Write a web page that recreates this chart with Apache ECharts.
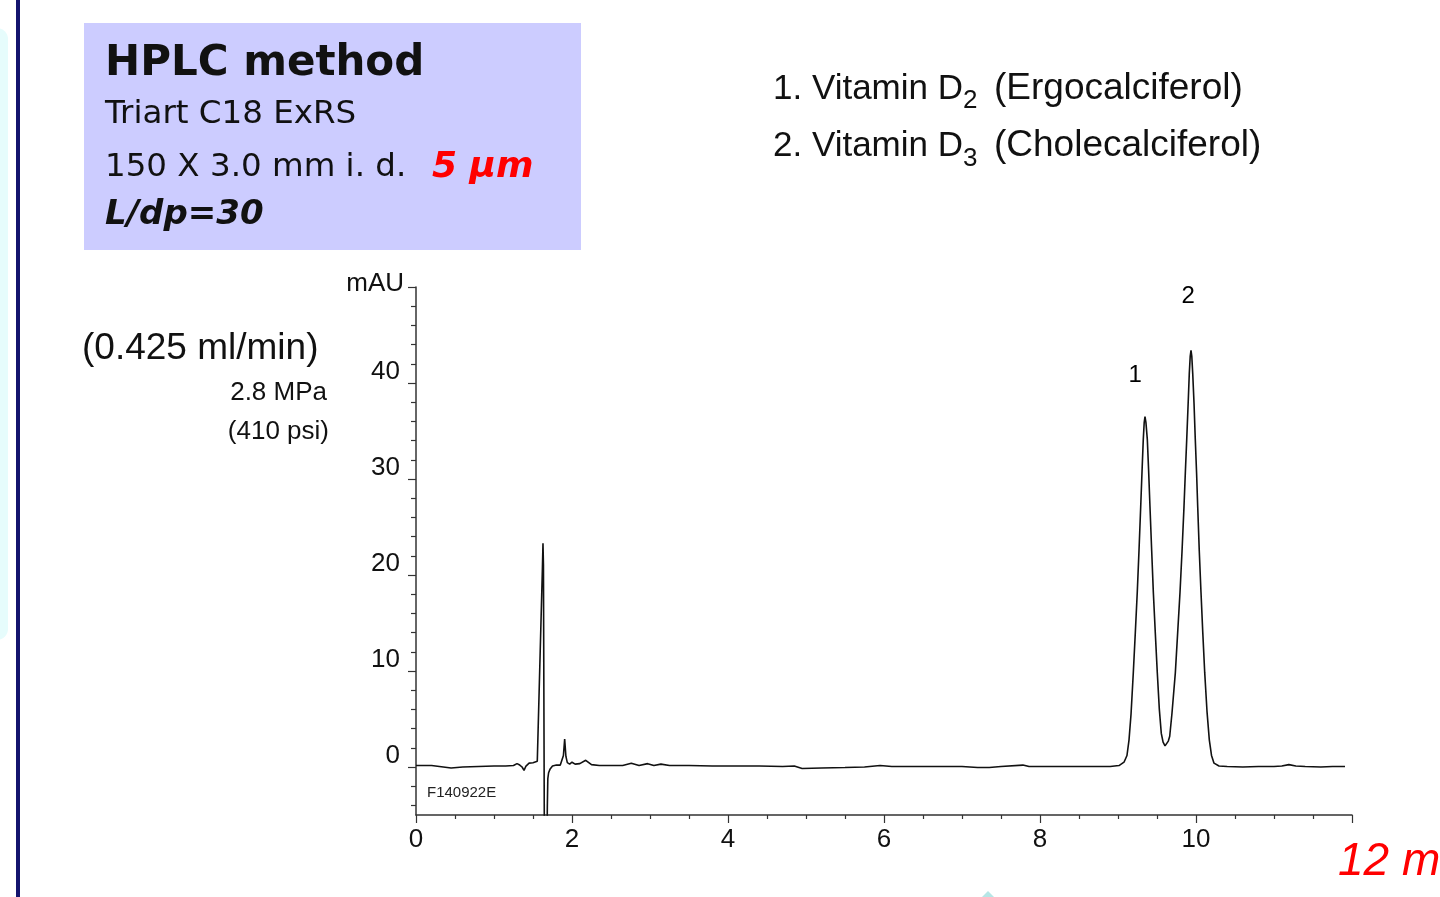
<!DOCTYPE html>
<html>
<head>
<meta charset="utf-8">
<title>HPLC Vitamin D2 / D3</title>
<script src="https://cdn.jsdelivr.net/npm/echarts@6.0.0/dist/echarts.min.js"></script>
<style>
  html, body { margin: 0; padding: 0; background: #fff; overflow: hidden; }
  #chart { width: 1440px; height: 897px; }
</style>
</head>
<body>
<div id="chart"></div>
<script>
// chromatogram trace: [retention time (min), signal (mAU)]
var trace = [
  [0, 0.15], [0.2, 0.15], [0.3, 0.05], [0.45, -0.1], [0.6, 0.0], [0.8, 0.05], [1.0, 0.1],
  [1.15, 0.1], [1.25, 0.15], [1.295, 0.35], [1.33, 0.2], [1.36, 0.0], [1.385, -0.35],
  [1.41, 0.1], [1.45, 0.4], [1.5, 0.45], [1.555, 0.6],
  // solvent front spike
  [1.62, 20.5], [1.628, 23.3], [1.634, 21], [1.645, -6], [1.655, -13], [1.668, -14],
  [1.678, -9], [1.684, -4], [1.69, -1.2], [1.70, -0.6], [1.72, -0.2], [1.75, 0.1],
  [1.80, 0.2], [1.85, 0.2],
  [1.872, 0.4], [1.89, 1.2], [1.906, 2.9], [1.922, 1.1], [1.94, 0.45], [1.97, 0.3],
  [2.0, 0.5], [2.04, 0.3], [2.1, 0.35], [2.176, 0.7], [2.25, 0.25], [2.35, 0.15],
  [2.5, 0.15], [2.65, 0.15], [2.76, 0.4], [2.86, 0.15], [2.97, 0.35], [3.05, 0.15],
  [3.14, 0.3], [3.25, 0.15], [3.5, 0.15], [3.8, 0.1], [4.1, 0.1], [4.4, 0.1],
  [4.7, 0.05], [4.85, 0.1], [4.95, -0.15], [5.2, -0.1], [5.5, -0.05], [5.75, 0.0],
  [5.95, 0.15], [6.1, 0.05], [6.4, 0.05], [6.7, 0.05], [7.0, 0.05], [7.2, -0.05],
  [7.35, -0.05], [7.5, 0.05], [7.78, 0.2], [7.86, 0.05], [8.1, 0.05], [8.4, 0.05],
  [8.7, 0.05], [8.9, 0.05],
  // peak 1 (D2) and peak 2 (D3)
  [9.013, 0.15], [9.077, 0.5], [9.115, 1.2], [9.141, 2.8], [9.167, 5.5], [9.196, 9.8],
  [9.222, 14.0], [9.247, 18.2], [9.269, 22.5], [9.291, 27.1], [9.31, 31.2], [9.324, 34.1],
  [9.336, 35.9], [9.346, 36.5], [9.358, 35.9], [9.376, 34.1], [9.392, 31.0], [9.41, 27.1],
  [9.432, 22.5], [9.453, 18.2], [9.478, 14.0], [9.504, 9.8], [9.53, 6.0], [9.555, 3.5],
  [9.578, 2.6], [9.603, 2.2], [9.625, 2.4], [9.645, 2.7], [9.663, 3.2], [9.692, 5.6],
  [9.735, 9.8], [9.765, 14.0], [9.795, 18.2], [9.821, 22.5], [9.846, 27.1], [9.865, 31.0],
  [9.881, 34.1], [9.9, 38.0], [9.914, 41.0], [9.926, 42.8], [9.936, 43.4], [9.946, 42.8],
  [9.958, 41.0], [9.975, 37.8], [9.991, 34.1], [10.008, 30.5], [10.022, 27.1],
  [10.042, 22.5], [10.064, 18.2], [10.087, 14.0], [10.112, 9.8], [10.141, 5.8],
  [10.171, 2.8], [10.199, 1.2], [10.231, 0.4], [10.295, 0.1],
  [10.4, 0.05], [10.6, 0.0], [10.8, 0.05], [11.0, 0.05], [11.1, 0.1], [11.19, 0.25],
  [11.28, 0.1], [11.4, 0.05], [11.6, 0.0], [11.75, 0.05], [11.91, 0.05]
];

// peak numbers written above the two peaks
var peakNames = ['1', '2'];
var peakNameTime = [9.22, 9.90];
var peakNameMau = [40.8, 49.0];

// axis ticks and labels
var yMajorTicks = [0, 10, 20, 30, 40, 50];
var yLabelValues = [0, 10, 20, 30, 40];
var yMinorTicks = [-4, -2, 2, 4, 6, 8, 12, 14, 16, 18, 22, 24, 26, 28, 32, 34, 36, 38, 42, 44, 46, 48];
var xMajorTicks = [0, 2, 4, 6, 8, 10, 12];
var xLabelValues = [0, 2, 4, 6, 8, 10];
var xMinorTicks = [0.5, 1, 1.5, 2.5, 3, 3.5, 4.5, 5, 5.5, 6.5, 7, 7.5, 8.5, 9, 9.5, 10.5, 11, 11.5];

var ARIAL = '"Liberation Sans", Arial, sans-serif';
var VERDANA = '"DejaVu Sans", Verdana, sans-serif';
var AXIS_COLOR = '#333';

var myChart = echarts.init(document.getElementById('chart'));

function txt(x, y, text, font, color, align) {
  return {
    type: 'text',
    x: x,
    y: y,
    style: {
      text: text,
      font: font,
      fill: color || '#111',
      textAlign: align || 'left',
      textVerticalAlign: 'middle'
    }
  };
}

var option = {
  animation: false,
  backgroundColor: '#fff',
  grid: {
    left: 416,
    right: 88,
    top: 287,
    bottom: 82,
    containLabel: false
  },
  xAxis: [{
      type: 'value',
      min: 0,
      max: 12,
      axisLine: { show: true, onZero: false, lineStyle: { color: AXIS_COLOR, width: 1.5 } },
      axisTick: { show: true, customValues: xMajorTicks, length: 8, lineStyle: { color: AXIS_COLOR, width: 1.2 } },
      axisLabel: { customValues: xLabelValues, margin: 12, fontSize: 26, fontFamily: ARIAL, color: '#111' },
      splitLine: { show: false }
    },
    {
      type: 'value',
      min: 0,
      max: 12,
      position: 'bottom',
      axisLine: { show: false, onZero: false },
      axisTick: { show: true, customValues: xMinorTicks, length: 4, lineStyle: { color: AXIS_COLOR, width: 1.2 } },
      axisLabel: { show: false },
      splitLine: { show: false }
    }
  ],
  yAxis: [{
      type: 'value',
      min: -5,
      max: 50,
      axisLine: { show: true, onZero: false, lineStyle: { color: AXIS_COLOR, width: 1.5 } },
      axisTick: { show: true, customValues: yMajorTicks, length: 8, lineStyle: { color: AXIS_COLOR, width: 1.2 } },
      axisLabel: {
        customValues: yLabelValues,
        margin: 16,
        fontSize: 26,
        fontFamily: ARIAL,
        color: '#111',
        verticalAlign: 'bottom',
        lineHeight: 22
      },
      splitLine: { show: false }
    },
    {
      type: 'value',
      min: -5,
      max: 50,
      position: 'left',
      axisLine: { show: false, onZero: false },
      axisTick: { show: true, customValues: yMinorTicks, length: 5, lineStyle: { color: AXIS_COLOR, width: 1.2 } },
      axisLabel: { show: false },
      splitLine: { show: false }
    }
  ],
  series: [{
      name: 'trace',
      type: 'line',
      data: trace,
      showSymbol: false,
      symbol: 'none',
      clip: true,
      lineStyle: { color: '#111', width: 1.6 }
    },
    {
      name: 'peaks',
      type: 'scatter',
      symbolSize: 0,
      itemStyle: { opacity: 1 },
      data: peakNames.map(function (n, i) {
        return { name: n, value: [peakNameTime[i], peakNameMau[i]] };
      }),
      label: {
        show: true,
        position: 'inside',
        formatter: '{b}',
        fontSize: 24,
        fontFamily: ARIAL,
        color: '#000',
        opacity: 1
      }
    }
  ],
  graphic: [
    // slide decoration on the left
    { type: 'rect', shape: { x: -14, y: 28, width: 22, height: 612, r: 12 }, style: { fill: '#e6fcfc' } },
    { type: 'rect', shape: { x: 16, y: 0, width: 4, height: 897 }, style: { fill: '#14146e' } },
    { type: 'polygon', shape: { points: [[988, 891], [982, 897], [994, 897]] }, style: { fill: '#b6e6e6' } },
    // method box
    { type: 'rect', shape: { x: 84, y: 23, width: 497, height: 227 }, style: { fill: '#ccccff' } },
    txt(105, 64, 'HPLC method', 'bold 42px ' + VERDANA),
    txt(105, 115, 'Triart C18 ExRS', '32.5px ' + VERDANA),
    txt(105, 168, '150 X 3.0 mm i. d.', '32.5px ' + VERDANA),
    txt(432, 168, '5 μm', 'italic bold 36px ' + VERDANA, '#ff0000'),
    txt(105, 215, 'L/dp=30', 'italic bold 34px ' + VERDANA),
    // compound list
    txt(773, 89, '1. Vitamin D', '35px ' + ARIAL),
    txt(963, 101, '2', '26px ' + ARIAL),
    txt(994, 89, '(Ergocalciferol)', '37px ' + ARIAL),
    txt(773, 146, '2. Vitamin D', '35px ' + ARIAL),
    txt(963, 159, '3', '26px ' + ARIAL),
    txt(994, 146, '(Cholecalciferol)', '37px ' + ARIAL),
    // flow conditions
    txt(82, 349, '(0.425 ml/min)', '37px ' + ARIAL, '#111'),
    txt(327, 393, '2.8 MPa', '26px ' + ARIAL, '#111', 'right'),
    txt(329, 432, '(410 psi)', '26px ' + ARIAL, '#111', 'right'),
    // axis unit and file id
    txt(404, 284, 'mAU', '26px ' + ARIAL, '#111', 'right'),
    txt(427, 793, 'F140922E', '15px ' + ARIAL, '#222'),
    txt(1338, 862, '12 m', 'italic 46px ' + ARIAL, '#ff0000')
  ]
};

myChart.setOption(option);
</script>
</body>
</html>
